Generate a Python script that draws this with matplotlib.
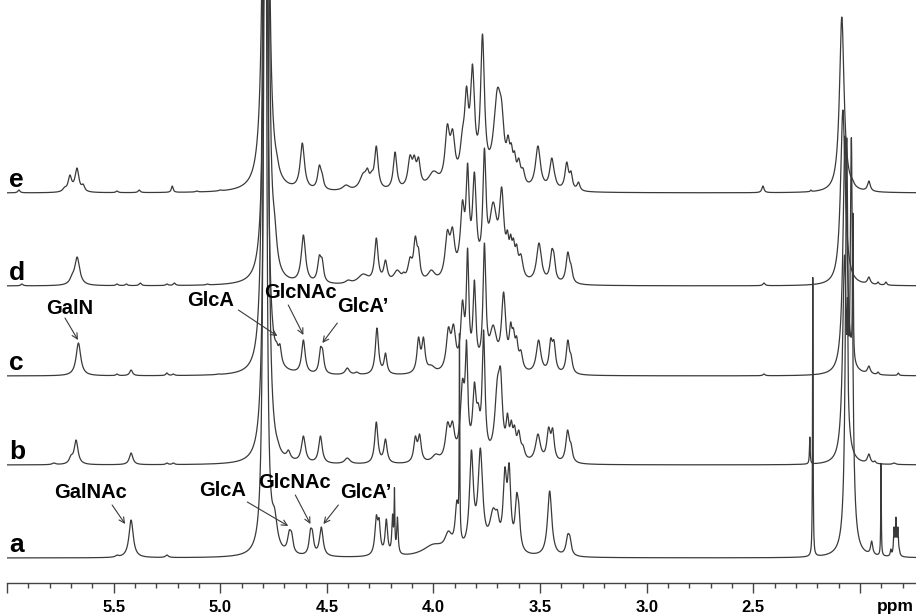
import numpy as np
import matplotlib
matplotlib.use("Agg")
import matplotlib.pyplot as plt

plt.rcParams['font.family'] = ['Liberation Sans', 'DejaVu Sans']

# ---------------- data: peak lists ----------------
# each spectrum: peak centres (ppm), observed peak-top heights (px above baseline), half widths (ppm)
e_ppm = [5.944, 5.73, 5.705, 5.672, 5.643, 5.484, 5.38, 5.225, 5.11, 5.0,
         4.786, 4.752, 4.735, 4.625, 4.615, 4.535, 4.522, 4.41, 4.33, 4.31, 4.29, 4.268,
         4.18, 4.11, 4.09, 4.07, 4.0, 3.935, 3.91, 3.864, 3.845, 3.817, 3.77, 3.70, 3.68,
         3.65, 3.635, 3.62, 3.60, 3.58, 3.51, 3.445, 3.43, 3.375, 3.355, 3.32,
         2.455, 2.23, 2.085, 2.05, 2.035, 1.958]
e_hgt = [3, 6, 18, 25, 9, 2, 3, 7, 2, 3,
         1500, 60, 40, 25, 50, 28, 20, 8, 20, 25, 22, 47,
         41, 38, 38, 36, 22, 69, 64, 65, 107, 129, 159, 105, 92,
         58, 50, 42, 35, 25, 47, 35, 18, 31, 22, 11,
         7, 3, 176, 22, 14, 12]
e_wid = [0.006, 0.01, 0.01, 0.011, 0.008, 0.006, 0.006, 0.005, 0.006, 0.008,
         0.0078, 0.012, 0.01, 0.008, 0.012, 0.01, 0.008, 0.02, 0.02, 0.01, 0.01, 0.01,
         0.01, 0.012, 0.01, 0.01, 0.03, 0.013, 0.013, 0.014, 0.011, 0.012, 0.011, 0.022, 0.013,
         0.009, 0.008, 0.008, 0.01, 0.01, 0.014, 0.012, 0.008, 0.01, 0.008, 0.008,
         0.006, 0.003, 0.013, 0.01, 0.008, 0.008]

d_ppm = [5.93, 5.695, 5.671, 5.484, 5.44, 5.375, 5.25, 5.215, 5.06, 4.98,
         4.783, 4.745, 4.61, 4.535, 4.522, 4.40, 4.33, 4.268, 4.225, 4.17, 4.14,
         4.11, 4.085, 4.07, 4.01, 3.935, 3.911, 3.878, 3.864, 3.84, 3.808, 3.761, 3.72, 3.68,
         3.653, 3.638, 3.625, 3.61, 3.59, 3.505, 3.445, 3.435, 3.37, 3.355,
         2.45, 2.08, 2.05, 1.958, 1.915, 1.878]
d_hgt = [2, 12, 29, 2, 2, 3, 2, 3, 2, 2,
         1500, 73, 51, 31, 28, 6, 12, 48, 26, 16, 14,
         29, 50, 38, 16, 56, 59, 46, 86, 123, 114, 138, 84, 99,
         56, 52, 48, 42, 32, 43, 37, 33, 34, 22,
         3, 176, 16, 9, 4, 4]
d_wid = [0.006, 0.012, 0.014, 0.006, 0.006, 0.006, 0.006, 0.006, 0.006, 0.006,
         0.0068, 0.012, 0.012, 0.01, 0.008, 0.015, 0.03, 0.01, 0.01, 0.02, 0.008,
         0.012, 0.01, 0.008, 0.02, 0.013, 0.013, 0.011, 0.011, 0.009, 0.011, 0.009, 0.022, 0.013,
         0.008, 0.007, 0.008, 0.008, 0.012, 0.014, 0.01, 0.008, 0.01, 0.008,
         0.006, 0.013, 0.01, 0.008, 0.005, 0.005]

c_ppm = [5.665, 5.484, 5.418, 5.25, 5.22, 5.01,
         4.79, 4.735, 4.72, 4.61, 4.53, 4.52, 4.404, 4.36, 4.265, 4.225,
         4.07, 4.047, 4.01, 3.93, 3.906, 3.864, 3.84, 3.808, 3.761, 3.72, 3.671,
         3.638, 3.625, 3.61, 3.59, 3.507, 3.45, 3.435, 3.37, 3.355,
         2.45, 2.07, 2.033, 1.958, 1.915, 1.82]
c_hgt = [33, 2, 6, 3, 2, 2,
         1500, 34, 32, 36, 29, 27, 8, 4, 48, 23,
         39, 39, 11, 49, 52, 76, 128, 96, 133, 51, 84,
         54, 48, 40, 26, 36, 38, 36, 36, 22,
         2, 240, 163, 10, 4, 3]
c_wid = [0.013, 0.006, 0.008, 0.006, 0.006, 0.006,
         0.0068, 0.008, 0.008, 0.01, 0.008, 0.008, 0.012, 0.01, 0.009, 0.008,
         0.009, 0.009, 0.02, 0.012, 0.012, 0.01, 0.007, 0.008, 0.008, 0.02, 0.012,
         0.008, 0.008, 0.008, 0.01, 0.013, 0.009, 0.009, 0.009, 0.008,
         0.006, 0.011, 0.002, 0.008, 0.005, 0.004]

b_ppm = [5.78, 5.70, 5.676, 5.418, 5.25, 5.22,
         4.785, 4.745, 4.73, 4.68, 4.61, 4.60, 4.53, 4.404, 4.268, 4.225,
         4.085, 4.065, 3.99, 3.934, 3.911, 3.864, 3.845, 3.808, 3.79, 3.765, 3.70, 3.685,
         3.653, 3.635, 3.62, 3.60, 3.58, 3.51, 3.46, 3.441, 3.371, 3.355,
         2.235, 2.072, 2.058, 1.958, 1.93, 1.84]
b_hgt = [2, 10, 25, 12, 2, 2,
         1500, 33, 25, 15, 29, 14, 29, 7, 43, 26,
         29, 31, 11, 43, 44, 86, 125, 83, 62, 135, 88, 97,
         52, 45, 40, 35, 20, 31, 38, 37, 35, 22,
         28, 210, 167, 11, 4, 2]
b_wid = [0.01, 0.01, 0.011, 0.01, 0.006, 0.006,
         0.0067, 0.012, 0.01, 0.01, 0.011, 0.008, 0.01, 0.015, 0.009, 0.009,
         0.009, 0.009, 0.02, 0.012, 0.012, 0.012, 0.007, 0.01, 0.01, 0.008, 0.015, 0.01,
         0.008, 0.008, 0.008, 0.01, 0.01, 0.014, 0.01, 0.009, 0.01, 0.008,
         0.002, 0.011, 0.002, 0.008, 0.005, 0.008]

a_ppm = [5.484, 5.418, 5.25, 4.875, 4.85,
         4.79, 4.745, 4.676, 4.665, 4.577, 4.568, 4.526,
         4.268, 4.255, 4.221, 4.192, 4.183, 4.169, 4.0, 3.93,
         3.89, 3.878, 3.822, 3.78, 3.72, 3.70, 3.665, 3.645, 3.61, 3.60,
         3.455, 3.37, 3.36, 3.34,
         2.221, 2.062, 2.04, 1.945, 1.901, 1.855, 1.84, 1.831, 1.822, 1.815]
a_hgt = [3, 38, 3, 4, 10,
         1500, 50, 28, 26, 29, 28, 31,
         43, 40, 39, 44, 71, 41, 14, 27,
         58, 228, 108, 110, 50, 48, 91, 95, 65, 55,
         67, 24, 22, 3,
         283, 420, 420, 17, 95, 9, 31, 41, 31, 9]
a_wid = [0.008, 0.012, 0.008, 0.006, 0.006,
         0.0055, 0.015, 0.01, 0.008, 0.008, 0.008, 0.01,
         0.008, 0.007, 0.007, 0.004, 0.002, 0.004, 0.06, 0.02,
         0.01, 0.0015, 0.011, 0.013, 0.02, 0.01, 0.01, 0.009, 0.009, 0.008,
         0.012, 0.01, 0.008, 0.008,
         0.0015, 0.007, 0.007, 0.006, 0.0015, 0.003, 0.003, 0.003, 0.003, 0.003]

spectra = {
    'a': (a_ppm, a_hgt, a_wid),
    'b': (b_ppm, b_hgt, b_wid),
    'c': (c_ppm, c_hgt, c_wid),
    'd': (d_ppm, d_hgt, d_wid),
    'e': (e_ppm, e_hgt, e_wid),
}

tick_major = [6.0, 5.5, 5.0, 4.5, 4.0, 3.5, 3.0, 2.5, 2.0]
tick_labels = ['', '5.5', '5.0', '4.5', '4.0', '3.5', '3.0', '2.5', '']

# ---------------- layout ----------------
offsets = {'a': 25, 'b': 118, 'c': 207, 'd': 297, 'e': 390}
W, H = 916, 616
LINE = '#3a3a3a'


def lorentz_sum(x, p, amp, w):
    x = np.asarray(x)[:, None]
    return (amp[None, :] * w[None, :] ** 2 / ((x - p[None, :]) ** 2 + w[None, :] ** 2)).sum(axis=1)


def amplitudes(p, h, w):
    # amplitudes such that the summed lineshape reaches the observed heights at the peak centres
    p, h, w = map(lambda v: np.asarray(v, float), (p, h, w))
    amp = h.copy()
    for _ in range(400):
        model = lorentz_sum(p, p, amp, w)
        amp = np.clip(amp + 0.5 * (h - model), 0, None)
    return p, amp, w


fig = plt.figure(figsize=(W / 100, H / 100), dpi=100)
ax = fig.add_axes([7 / W, 33 / H, 1 - 7 / W, 1 - 33 / H])
ax.set_xlim(6.0, 1.737)
ax.set_ylim(0, 583)

x = np.linspace(6.0, 1.737, 9000)
for key, (p, h, w) in spectra.items():
    pp, amp, ww = amplitudes(p, h, w)
    y = lorentz_sum(x, pp, amp, ww) + offsets[key]
    ax.plot(x, y, color=LINE, lw=0.9, solid_joinstyle='round')
    ax.text(5.99, offsets[key] + 6, key, fontsize=19, fontweight='bold', ha='left', va='baseline')

# annotations (text position, arrow tail, arrow tip) in ppm / height units
annots = [
    ('GalN',   (5.704, 275), (5.728, 265), (5.667, 243)),
    ('GlcA',   (5.047, 283), (4.915, 273), (4.732, 247)),
    ('GlcNAc', (4.624, 291), (4.681, 278), (4.610, 248)),
    ('GlcA\u2019', (4.333, 276), (4.451, 260), (4.521, 240)),
    ('GalNAc', (5.610, 91), (5.507, 78), (5.446, 59)),
    ('GlcA',   (4.991, 93), (4.873, 81), (4.681, 57)),
    ('GlcNAc', (4.653, 101), (4.648, 88), (4.577, 59)),
    ('GlcA\u2019', (4.319, 91), (4.446, 78), (4.516, 59)),
]
for txt, tpos, tail, tip in annots:
    ax.text(tpos[0], tpos[1], txt, fontsize=14.5, fontweight='bold', ha='center', va='center')
    ax.annotate('', xy=tip, xytext=tail,
                arrowprops=dict(arrowstyle='->', lw=0.8, color=LINE,
                                shrinkA=0, shrinkB=0, mutation_scale=10))

for s in ['top', 'left', 'right']:
    ax.spines[s].set_visible(False)
ax.spines['bottom'].set_linewidth(1.0)
ax.spines['bottom'].set_color('#444444')
ax.set_yticks([])
ax.set_xticks(tick_major)
ax.set_xticklabels(tick_labels)
ax.set_xticks(np.arange(1.8, 6.01, 0.1), minor=True)
ax.tick_params(axis='x', which='major', length=7, width=1, color='#444444', pad=5,
               labelsize=12)
ax.tick_params(axis='x', which='minor', length=3.5, width=1, color='#444444')
for lab in ax.get_xticklabels():
    lab.set_fontweight('bold')
fig.text(895 / W, 1 - 606 / H, 'ppm', fontsize=12.5, fontweight='bold', ha='center', va='center')

fig.savefig('out.png', dpi=100)
